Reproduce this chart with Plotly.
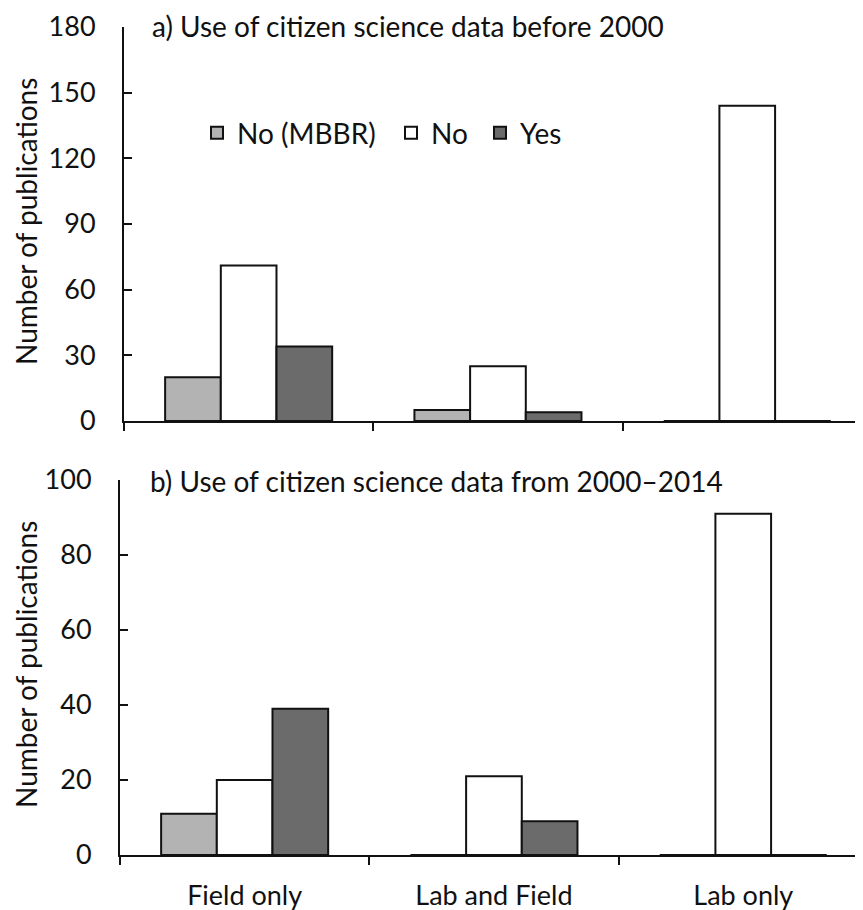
import plotly.graph_objects as go

categories = ["Field only", "Lab and Field", "Lab only"]
series_names = ["No (MBBR)", "No", "Yes"]
colors = ["#b3b3b3", "#ffffff", "#6b6b6b"]

# a) before 2000
before_mbbr = [20, 5, 0]
before_no = [71, 25, 144]
before_yes = [34, 4, 0]

# b) 2000-2014
after_mbbr = [11, 0, 0]
after_no = [20, 21, 91]
after_yes = [39, 9, 0]

top_ticks = [0, 30, 60, 90, 120, 150, 180]
bottom_ticks = [0, 20, 40, 60, 80, 100]

# page body has an 8px margin, so the figure is sized to fill the rest of the window
OFF = 8
W, H = 863 - OFF, 910 - OFF
FONT = "Lato"
FS = 28
TFS = 27
INK = "#111111"

def px_x(p):
    return (p - OFF) / W

def px_y(p):
    return 1 - (p - OFF) / H

legend_ids = ["legend", "legend2", "legend3"]
legend_x = [197, 391, 480]

fig = go.Figure()
top_vals = [before_mbbr, before_no, before_yes]
bot_vals = [after_mbbr, after_no, after_yes]
for name, col, vals, lid in zip(series_names, colors, top_vals, legend_ids):
    fig.add_trace(go.Bar(x=categories, y=vals, name=name, marker=dict(color=col, line=dict(color=INK, width=2)),
                         xaxis="x", yaxis="y", legendgroup=name, showlegend=True, legend=lid))
for name, col, vals in zip(series_names, colors, bot_vals):
    fig.add_trace(go.Bar(x=categories, y=vals, name=name, marker=dict(color=col, line=dict(color=INK, width=2)),
                         xaxis="x2", yaxis="y2", legendgroup=name, showlegend=False))

top_x0, bot_x0 = 124, 120
catw = 249.3

axis_common = dict(showline=True, linecolor=INK, linewidth=2, showgrid=False, zeroline=False,
                   automargin=False, ticklabeloverflow="allow",
                   tickfont=dict(family=FONT, size=TFS, color=INK))

legend_common = dict(orientation="h", y=px_y(133), xanchor="left", yanchor="middle",
                     bgcolor="rgba(0,0,0,0)", font=dict(family=FONT, size=FS, color=INK))

fig.update_layout(
    template="none",
    width=W, height=H,
    margin=dict(l=0, r=0, t=0, b=0, pad=0),
    paper_bgcolor="white", plot_bgcolor="white",
    barmode="group", bargap=0.33, bargroupgap=0,
    font=dict(family=FONT, size=FS, color=INK),
    xaxis=dict(domain=[px_x(top_x0), 1], anchor="y", range=[-0.5, -0.5 + (863 - top_x0) / catw],
               ticks="outside", tickson="boundaries", ticklen=8, tickwidth=2, tickcolor=INK,
               showticklabels=False, **axis_common),
    yaxis=dict(domain=[px_y(421), px_y(27)], anchor="x", range=[0, 180], tickvals=top_ticks,
               ticks="inside", ticklen=8, tickwidth=2, tickcolor=INK, ticklabelstandoff=21,
               **axis_common),
    xaxis2=dict(domain=[px_x(bot_x0), 1], anchor="y2", range=[-0.5, -0.5 + (863 - bot_x0) / catw],
                ticks="outside", tickson="boundaries", ticklen=8, tickwidth=2, tickcolor=INK,
                ticklabelstandoff=16, **axis_common),
    yaxis2=dict(domain=[px_y(855), px_y(480)], anchor="x2", range=[0, 100], tickvals=bottom_ticks,
                ticks="inside", ticklen=8, tickwidth=2, tickcolor=INK, ticklabelstandoff=21,
                **axis_common),
    legend=dict(x=px_x(legend_x[0]), **legend_common),
    legend2=dict(x=px_x(legend_x[1]), **legend_common),
    legend3=dict(x=px_x(legend_x[2]), **legend_common),
    annotations=[
        dict(text="a) Use of citizen science data before 2000", x=px_x(150), y=px_y(26), xref="paper", yref="paper",
             xanchor="left", yanchor="middle", showarrow=False, font=dict(family=FONT, size=FS, color=INK)),
        dict(text="b) Use of citizen science data from 2000\u20132014", x=px_x(148), y=px_y(481), xref="paper",
             yref="paper", xanchor="left", yanchor="middle", showarrow=False,
             font=dict(family=FONT, size=FS, color=INK)),
        dict(text="Number of publications", x=px_x(26), y=px_y(222), xref="paper", yref="paper", textangle=-90,
             xanchor="center", yanchor="middle", showarrow=False, font=dict(family=FONT, size=FS, color=INK)),
        dict(text="Number of publications", x=px_x(26), y=px_y(665), xref="paper", yref="paper", textangle=-90,
             xanchor="center", yanchor="middle", showarrow=False, font=dict(family=FONT, size=FS, color=INK)),
    ],
)

fig.write_html("out.html")
